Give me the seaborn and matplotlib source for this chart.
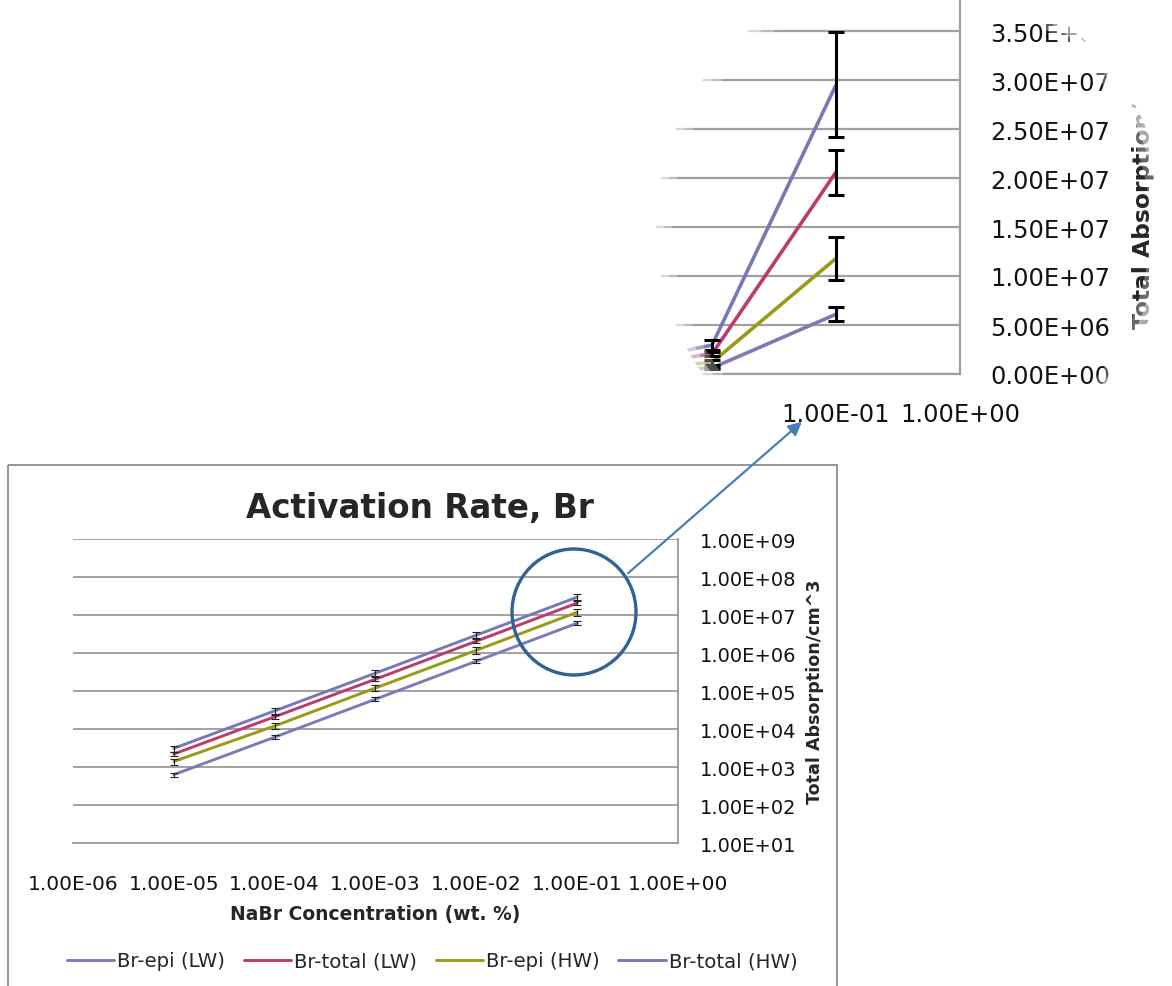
import numpy as np
import pandas as pd
import seaborn as sns
import matplotlib
matplotlib.use('Agg')
import matplotlib.pyplot as plt
from matplotlib.patches import Ellipse, Rectangle, PathPatch, FancyArrowPatch
from matplotlib.path import Path
from matplotlib.ticker import FuncFormatter, FixedLocator, NullLocator

# 1. 数据
conc = [1e-5, 1e-4, 1e-3, 1e-2, 1e-1]
series_names = ['Br-epi (LW)', 'Br-total (LW)', 'Br-epi (HW)', 'Br-total (HW)']
br_epi_lw = [6.3e2, 6.1e3, 6.1e4, 6.1e5, 6.1e6]
br_total_lw = [2.2e3, 2.1e4, 2.05e5, 2.05e6, 2.06e7]
br_epi_hw = [1.4e3, 1.2e4, 1.2e5, 1.18e6, 1.18e7]
br_total_hw = [3.1e3, 3.0e4, 2.95e5, 2.95e6, 2.95e7]
err_epi_lw = [7.0e1, 7.0e2, 7.0e3, 7.0e4, 7.0e5]
err_total_lw = [2.4e2, 2.3e3, 2.3e4, 2.3e5, 2.3e6]
err_epi_hw = [2.5e2, 2.2e3, 2.2e4, 2.2e5, 2.2e6]
err_total_hw = [5.5e2, 5.4e3, 5.4e4, 5.4e5, 5.35e6]

main_yticks = [1e1, 1e2, 1e3, 1e4, 1e5, 1e6, 1e7, 1e8, 1e9]
main_xticks = [1e-6, 1e-5, 1e-4, 1e-3, 1e-2, 1e-1, 1e0]
inset_yticks = [0, 5e6, 1e7, 1.5e7, 2e7, 2.5e7, 3e7, 3.5e7]
inset_xticks = [1e-1, 1e0]

colors = {'Br-epi (LW)': '#7B7BB8', 'Br-total (LW)': '#BC3A6C',
          'Br-epi (HW)': '#9A9A18', 'Br-total (HW)': '#7878B6'}

values = [br_epi_lw, br_total_lw, br_epi_hw, br_total_hw]
errors = [err_epi_lw, err_total_lw, err_epi_hw, err_total_hw]
rows = []
for name, vals, errs in zip(series_names, values, errors):
    for c, v, e in zip(conc, vals, errs):
        rows.append({'conc': c, 'value': v, 'err': e, 'series': name})
df = pd.DataFrame(rows)

sns.set_style('white')
plt.rcParams['font.family'] = ['DejaVu Sans']

W, H = 1172, 987
fig = plt.figure(figsize=(W / 100, H / 100), dpi=100)
sci = FuncFormatter(lambda v, p: f'{v:.2E}')

# 2. 主图（对数坐标）
ax = fig.add_axes([73 / W, 1 - 844 / H, 605 / W, 304 / H])
sns.lineplot(data=df, x='conc', y='value', hue='series', hue_order=series_names,
             palette=colors, linewidth=2.1, errorbar=None, ax=ax)
for name in series_names:
    d = df[df['series'] == name]
    ax.errorbar(d['conc'], d['value'], yerr=d['err'], fmt='none', ecolor='#222222',
                elinewidth=0.8, capsize=2.8, capthick=0.8, zorder=3)
ax.set_xscale('log')
ax.set_yscale('log')
ax.set_xlim(1e-6, 1e0)
ax.set_ylim(1e1, 1e9)
ax.xaxis.set_major_locator(FixedLocator(main_xticks))
ax.yaxis.set_major_locator(FixedLocator(main_yticks))
ax.xaxis.set_minor_locator(NullLocator())
ax.yaxis.set_minor_locator(NullLocator())
ax.xaxis.set_major_formatter(sci)
ax.yaxis.set_major_formatter(sci)
ax.yaxis.tick_right()
ax.tick_params(axis='y', length=0, pad=16, labelsize=14, colors='#111111')
ax.tick_params(axis='x', length=0, pad=22, labelsize=14.5, colors='#111111')
ax.grid(axis='y', color='#9B9B9B', linewidth=1.3)
ax.grid(axis='x', visible=False)
for s in ['left', 'top']:
    ax.spines[s].set_visible(False)
for s in ['right', 'bottom']:
    ax.spines[s].set_color('#9B9B9B')
    ax.spines[s].set_linewidth(1.3)
ax.set_xlabel('NaBr Concentration (wt. %)', fontsize=13.5, fontweight='bold')
ax.xaxis.set_label_coords(0.5, -0.2)
ax.yaxis.set_label_position('right')
ax.set_ylabel('Total Absorption/cm^3', fontsize=12.6, fontweight='bold')
ax.yaxis.set_label_coords(1.212, 0.5)
sns.move_legend(ax, 'center', bbox_to_anchor=(432 / W, 1 - 962 / H),
                bbox_transform=fig.transFigure, ncol=4, frameon=False, title=None,
                fontsize=14.2, handlelength=2.4, handletextpad=0.15, columnspacing=0.95)
fig.text(420 / W, 1 - 509 / H, 'Activation Rate, Br', ha='center', va='center',
         fontsize=23.5, fontweight='bold')

# 3. 放大图（线性纵坐标）
ax_in = fig.add_axes([650 / W, 1 - 375 / H, 310 / W, 392 / H], zorder=1)
sns.lineplot(data=df, x='conc', y='value', hue='series', hue_order=series_names,
             palette=colors, linewidth=2.6, errorbar=None, legend=False, ax=ax_in)
for name in series_names:
    d = df[df['series'] == name]
    ax_in.errorbar(d['conc'], d['value'], yerr=d['err'], fmt='none', ecolor='black',
                   elinewidth=2.2, capsize=5.5, capthick=2.2, zorder=3)
ax_in.set_xscale('log')
ax_in.set_xlim(10 ** -2.5, 1e0)
ax_in.set_ylim(0, 4e7)
ax_in.xaxis.set_major_locator(FixedLocator(inset_xticks))
ax_in.yaxis.set_major_locator(FixedLocator(inset_yticks))
ax_in.xaxis.set_minor_locator(NullLocator())
ax_in.xaxis.set_major_formatter(sci)
ax_in.yaxis.set_major_formatter(sci)
ax_in.yaxis.tick_right()
ax_in.tick_params(axis='y', length=0, pad=22, labelsize=17.4, colors='#111111')
ax_in.tick_params(axis='x', length=0, pad=20, labelsize=17.4, colors='#111111')
ax_in.grid(axis='y', color='#A0A0A0', linewidth=1.6)
ax_in.grid(axis='x', visible=False)
for s in ['left', 'top']:
    ax_in.spines[s].set_visible(False)
for s in ['right', 'bottom']:
    ax_in.spines[s].set_color('#A0A0A0')
    ax_in.spines[s].set_linewidth(1.6)
ax_in.set_xlabel('')
ax_in.yaxis.set_label_position('right')
ax_in.set_ylabel('Total Absorption/cm^3', fontsize=16.8, fontweight='bold')
ax_in.yaxis.set_label_coords(1.555, 0.5)
ax_in.patch.set_alpha(0)

# 4. 叠加层：圆形遮罩、圆圈、箭头、外框
ov = fig.add_axes([0, 0, 1, 1], zorder=10)
ov.set_xlim(0, W)
ov.set_ylim(H, 0)
ov.axis('off')
ov.patch.set_alpha(0)

cx, cy = 911, 228


def circle_mask(r, alpha):
    t = np.linspace(2 * np.pi, 0, 240)
    px = np.clip(cx + r * np.cos(t), 600, 1180)
    py = np.clip(cy + r * np.sin(t), -10, 462)
    outer = [(600, -10), (1180, -10), (1180, 462), (600, 462), (600, -10)]
    verts = outer + list(zip(px, py)) + [(px[0], py[0])]
    codes = ([Path.MOVETO] + [Path.LINETO] * 3 + [Path.CLOSEPOLY] +
             [Path.MOVETO] + [Path.LINETO] * (len(px) - 1) + [Path.CLOSEPOLY])
    ov.add_patch(PathPatch(Path(verts, codes), facecolor='white', edgecolor='none',
                           alpha=alpha, zorder=1))


circle_mask(255, 1.0)
circle_mask(247, 0.45)
circle_mask(239, 0.3)

ov.add_patch(Rectangle((8, 466), 829, 540, fill=False, edgecolor='#8C8C8C',
                       linewidth=1.3, zorder=2))
ov.add_patch(Ellipse((574, 613), 124, 126, fill=False, edgecolor='#2F6394',
                     linewidth=2.4, zorder=3))
ov.add_patch(FancyArrowPatch((626, 576), (804, 421), arrowstyle='-|>', mutation_scale=20,
                             color='#4A7EBB', linewidth=1.6, zorder=4))

fig.savefig('out.png', dpi=100)
